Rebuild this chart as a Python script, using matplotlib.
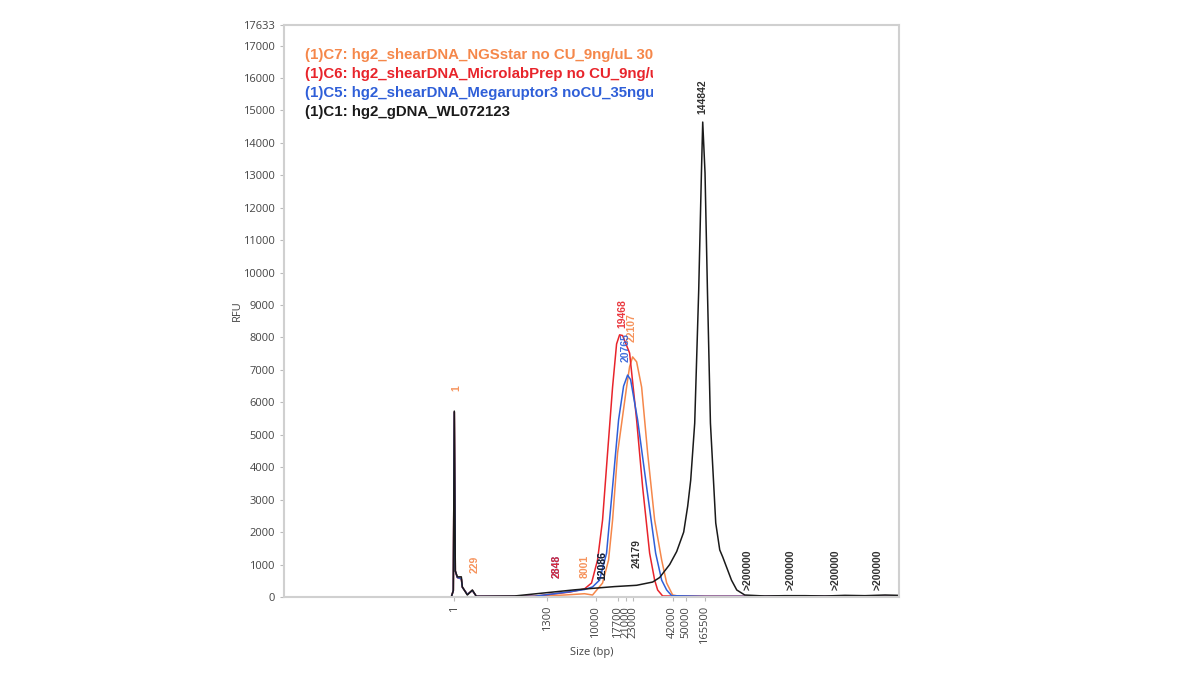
import matplotlib
matplotlib.use("Agg")
import matplotlib.pyplot as plt
from matplotlib.transforms import Bbox, TransformedBbox

# migration position (scan units) and RFU
gdna_x = [0, 167, 169, 170, 171, 173, 177, 178, 183, 188, 192, 230, 252, 268, 290, 310,
          330, 352, 368, 375, 385, 392, 399, 403, 406, 410, 414, 416.7, 418, 420.3,
          422.7, 425.7, 431, 435, 438, 446.7, 452, 460, 480, 500, 520, 540, 560, 580, 600, 613]
gdna_y = [0, 0, 200, 5730, 800, 620, 620, 310, 60, 215, 20, 30, 100, 150, 220, 270,
          320, 360, 460, 600, 1000, 1400, 2000, 2800, 3600, 5360, 9460, 13070, 14640, 13070,
          9460, 5360, 2280, 1450, 1230, 520, 215, 60, 30, 40, 40, 30, 50, 40, 60, 50]

mega_x = [0, 167, 169, 170, 171, 173, 177, 178, 183, 188, 192, 250, 265, 285, 300, 308,
          315, 322, 328, 334, 339, 343, 346, 353, 362, 371, 377, 382, 387, 420, 613]
mega_y = [0, 0, 200, 5700, 800, 600, 560, 300, 80, 200, 20, 20, 80, 160, 230, 310,
          520, 1350, 3390, 5460, 6500, 6840, 6700, 5460, 3390, 1350, 520, 215, 40, 20, 20]

micro_x = [0, 167, 169, 170, 171, 173, 177, 178, 183, 188, 192, 250, 265, 285, 300, 307,
           313, 318, 323, 328, 332, 335, 338, 345, 352, 358, 365, 370, 373, 378, 420, 613]
micro_y = [0, 0, 200, 5700, 800, 600, 560, 300, 80, 200, 20, 20, 80, 150, 250, 430,
           1140, 2370, 4440, 6470, 7800, 8080, 8060, 7520, 5460, 3390, 1350, 520, 215, 30, 20, 20]

ngs_x = [0, 167, 169, 170, 171, 173, 177, 178, 183, 188, 192, 250, 280, 300, 308, 318,
         324, 328, 333, 342, 345, 348, 352, 357, 363, 370, 377, 382, 388, 395, 613]
ngs_y = [0, 0, 200, 5700, 800, 600, 560, 300, 80, 200, 20, 20, 60, 100, 60, 430,
         1140, 2370, 4440, 6470, 7100, 7400, 7250, 6470, 4440, 2370, 1140, 430, 60, 20, 20]

size_ticks = [170, 263, 311, 333, 341, 348, 388, 401, 420]
size_labels = ["1", "1300", "10000", "17700", "21000", "23000", "42000", "50000", "165500"]
rfu_ticks = list(range(0, 18000, 1000)) + [17633]

legend_names = ["(1)C7: hg2_shearDNA_NGSstar no CU_9ng/uL 30ul",
                "(1)C6: hg2_shearDNA_MicrolabPrep no CU_9ng/uL",
                "(1)C5: hg2_shearDNA_Megaruptor3 noCU_35ngul",
                "(1)C1: hg2_gDNA_WL072123"]

# peak calls: position, label, series
peak_x = [172, 190, 272, 272, 300, 318, 318, 352, 338, 347, 341, 418, 463, 506, 551, 593]
peak_base = [6350, 740, 590, 590, 590, 520, 520, 900, 8280, 7850, 7250, 14900, 200, 200, 200, 200]
peak_text = ["1", "229", "2848", "2848", "8001", "12086", "12086", "24179", "19468", "22107",
             "20765", "144842", ">200000", ">200000", ">200000", ">200000"]
peak_series = ["ngs", "ngs", "mega", "micro", "ngs", "mega", "gdna", "gdna", "micro", "ngs",
               "mega", "gdna", "gdna", "gdna", "gdna", "gdna"]

colors = {"ngs": "#f5874a", "micro": "#e8242b", "mega": "#2f5fd8", "gdna": "#1a1a1a"}

fig = plt.figure(figsize=(12, 6.75), dpi=100)
ax = fig.add_axes([0.2367, 0.1156, 0.5125, 0.8474])

ax.plot(ngs_x, ngs_y, color=colors["ngs"], lw=1.1)
ax.plot(micro_x, micro_y, color=colors["micro"], lw=1.1)
ax.plot(mega_x, mega_y, color=colors["mega"], lw=1.1)
ax.plot(gdna_x, gdna_y, color=colors["gdna"], lw=1.1)

ax.set_xlim(0, 614)
ax.set_ylim(0, 17633)
ax.set_yticks(rfu_ticks)
ax.set_xticks(size_ticks)
ax.set_xticklabels(size_labels, rotation=90)
ax.tick_params(axis="both", colors="#bbbbbb", labelcolor="#444444", labelsize=8, length=3)
for lab in ax.get_xticklabels() + ax.get_yticklabels():
    lab.set_fontfamily("Open Sans")
for s in ax.spines.values():
    s.set_color("#d0d0d0")
    s.set_linewidth(1.5)

ax.set_ylabel("RFU", fontsize=8, color="#444444", family="Open Sans", labelpad=0)
ax.set_xlabel("Size (bp)", fontsize=8, color="#444444", family="Open Sans", labelpad=2)

for x, b, t, s in zip(peak_x, peak_base, peak_text, peak_series):
    ax.text(x, b, t, rotation=90, ha="center", va="bottom", fontsize=7.5,
            fontweight="bold", family="Liberation Sans", color=colors[s], alpha=0.9)

# the instrument's legend box cuts the sample names off
clip_box = TransformedBbox(Bbox([[0, 0], [0.6, 1]]), ax.transAxes)
for i, (name, key) in enumerate(zip(legend_names, ["ngs", "micro", "mega", "gdna"])):
    t = ax.text(0.034, 0.948 - i * 0.0333, name, transform=ax.transAxes, ha="left",
                va="center", fontsize=10.8, fontweight="bold", family="Liberation Sans",
                color=colors[key])
    t.set_clip_box(clip_box)
    t.set_clip_on(True)

fig.savefig("out.png", dpi=100)
